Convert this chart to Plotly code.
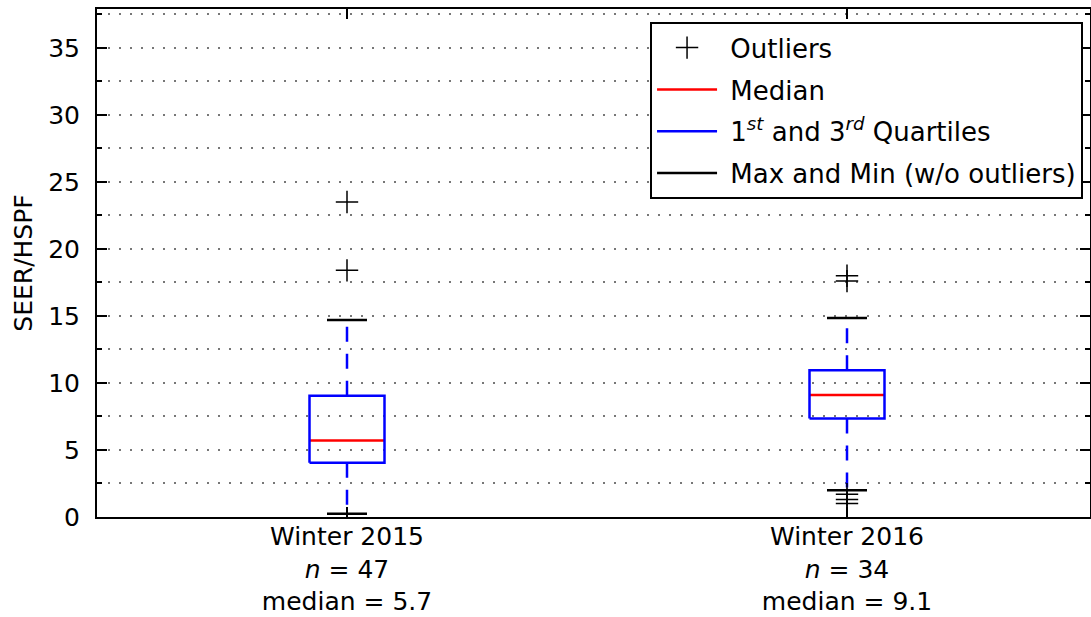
import plotly.graph_objects as go

# Summary statistics of SEER/HSPF per heating season
categories = ["Winter 2015", "Winter 2016"]
n_counts = [47, 34]
medians = [5.7, 9.1]
q1 = [4.05, 7.35]
q3 = [9.05, 10.95]
whisker_low = [0.25, 2.0]
whisker_high = [14.7, 14.85]
outliers = [
    [18.4, 23.5],
    [1.0, 1.3, 1.7, 17.6, 18.0],
]
positions = [1, 2]

BOX_HALF = 0.075
CAP_HALF = 0.04
FONT = "DejaVu Sans"
PAD = "&nbsp;"

box_x, box_y = [], []
med_x, med_y = [], []
whisk_x, whisk_y = [], []
cap_x, cap_y = [], []
out_x, out_y = [], []
for p, lo, a, m, b, hi, outs in zip(positions, whisker_low, q1, medians, q3,
                                     whisker_high, outliers):
    box_x += [p - BOX_HALF, p + BOX_HALF, p + BOX_HALF, p - BOX_HALF, p - BOX_HALF, None]
    box_y += [a, a, b, b, a, None]
    med_x += [p - BOX_HALF, p + BOX_HALF, None]
    med_y += [m, m, None]
    whisk_x += [p, p, None, p, p, None]
    whisk_y += [b, hi, None, a, lo, None]
    cap_x += [p - CAP_HALF, p + CAP_HALF, None, p - CAP_HALF, p + CAP_HALF, None]
    cap_y += [hi, hi, None, lo, lo, None]
    out_x += [p] * len(outs)
    out_y += outs

fig = go.Figure()

fig.add_trace(go.Scatter(
    x=whisk_x, y=whisk_y, mode="lines", showlegend=False, hoverinfo="skip",
    line=dict(color="#0000ff", width=2.5, dash="15px,12px"),
))
fig.add_trace(go.Scatter(
    x=out_x, y=out_y, mode="markers", name=PAD + "Outliers", legendgroup="o",
    marker=dict(symbol="cross-thin", size=16, color="black",
                line=dict(width=1.5, color="black")),
))
fig.add_trace(go.Scatter(
    x=med_x, y=med_y, mode="lines", name=PAD + "Median", legendgroup="m",
    line=dict(color="#ff0000", width=2.5),
))
fig.add_trace(go.Scatter(
    x=box_x, y=box_y, mode="lines", legendgroup="q",
    name=PAD + "1<sup><i>st</i></sup> and 3<sup><i>rd</i></sup> Quartiles",
    line=dict(color="#0000ff", width=2.5),
))
fig.add_trace(go.Scatter(
    x=cap_x, y=cap_y, mode="lines", name=PAD + "Max and Min (w/o outliers)",
    legendgroup="c", line=dict(color="black", width=2.5),
))

tick_text = [f"{c}<br><i>n</i> = {n}<br>median = {m}"
             for c, n, m in zip(categories, n_counts, medians)]

grid = dict(gridcolor="#777777", griddash="2px,9px", gridwidth=1.6)

fig.update_layout(
    width=1091, height=617,
    margin=dict(l=97, r=1, t=9, b=100, autoexpand=False),
    paper_bgcolor="white", plot_bgcolor="white",
    font=dict(family=FONT, size=25, color="black"),
    showlegend=True,
    legend=dict(
        x=0.993, y=0.974, xanchor="right", yanchor="top",
        bgcolor="white", bordercolor="black", borderwidth=2,
        font=dict(family=FONT, size=26, color="black"),
        tracegroupgap=5, traceorder="grouped", itemwidth=60,
    ),
    xaxis=dict(
        range=[0.5, 2.486], tickmode="array", tickvals=positions, ticktext=tick_text,
        showgrid=False, zeroline=False, automargin=False,
        showline=True, linecolor="black", linewidth=2, mirror="allticks",
        ticks="inside", ticklen=10, tickwidth=1.5, tickcolor="black",
        tickfont=dict(family=FONT, size=25), ticklabelstandoff=-4,
    ),
    yaxis=dict(
        range=[0, 37.9], tick0=0, dtick=5, showgrid=True, **grid, zeroline=False,
        automargin=False,
        showline=True, linecolor="black", linewidth=2, mirror="allticks",
        ticks="inside", ticklen=10, tickwidth=1.5, tickcolor="black",
        tickfont=dict(family=FONT, size=25), ticklabelstandoff=10,
        minor=dict(dtick=2.5, showgrid=True, ticks="inside", ticklen=5,
                   tickcolor="black", **grid),
        title=dict(text="SEER/HSPF", font=dict(family=FONT, size=25), standoff=8),
    ),
)

fig.write_html("out.html")
